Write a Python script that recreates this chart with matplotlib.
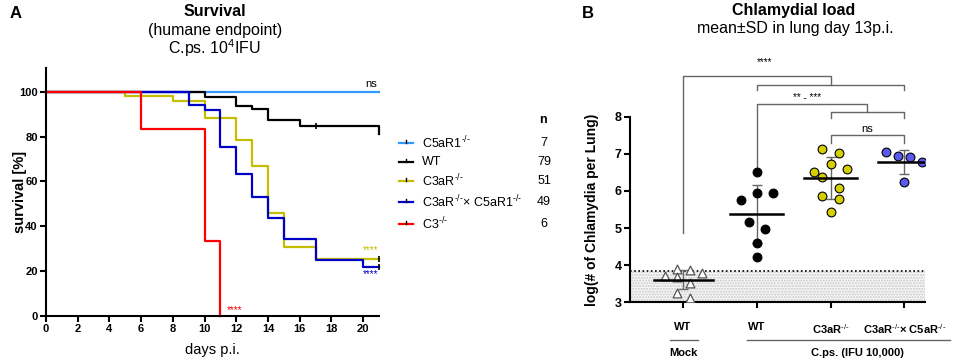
import numpy as np
import matplotlib
matplotlib.use("Agg")
import matplotlib.pyplot as plt
from matplotlib.lines import Line2D

plt.rcParams["font.family"] = ["Liberation Sans", "DejaVu Sans"]
plt.rcParams["mathtext.fontset"] = "custom"
plt.rcParams["mathtext.rm"] = "Liberation Sans"
plt.rcParams["mathtext.it"] = "Liberation Sans:italic"
plt.rcParams["mathtext.bf"] = "Liberation Sans:bold"

KO = r"$^{\text{-/-}}$"

# ---- panel A: survival (Kaplan-Meier steps) ----
surv_labels = ["C5aR1" + KO, "WT", "C3aR" + KO,
               "C3aR" + KO + "× C5aR1" + KO, "C3" + KO]
surv_n = [7, 79, 51, 49, 6]
surv_colors = ["#3399ff", "#000000", "#c4bd00", "#0000c8", "#ff0000"]

c5ar1_days = [0, 21]
c5ar1_surv = [100, 100]
wt_days = [0, 10, 12, 13, 14, 16, 21]
wt_surv = [100, 97.5, 93.7, 92.4, 87.3, 84.8, 81.0]
c3ar_days = [0, 5, 8, 10, 12, 13, 14, 15, 17, 21]
c3ar_surv = [100, 98.0, 96.1, 88.2, 78.4, 66.7, 46.1, 30.8, 25.6, 25.6]
dko_days = [0, 9, 10, 11, 12, 13, 14, 15, 17, 20, 21]
dko_surv = [100, 93.9, 91.8, 75.5, 63.3, 53.0, 43.7, 34.3, 25.0, 21.8, 21.8]
c3_days = [0, 6, 10, 11]
c3_surv = [100, 83.3, 33.3, 0]

surv_days = [c5ar1_days, wt_days, c3ar_days, dko_days, c3_days]
surv_vals = [c5ar1_surv, wt_surv, c3ar_surv, dko_surv, c3_surv]

# censored observations (small tick marks)
cens_days = [17, 21, 21]
cens_vals = [84.8, 25.6, 21.8]

# ---- panel B: chlamydial load ----
load_groups = ["WT", "WT", "C3aR" + KO, "C3aR" + KO + "× C5aR" + KO]
mock_off = [-0.24, -0.08, 0.09, -0.08, 0.26, 0.09, -0.08, 0.09]
mock_vals = [3.72, 3.89, 3.87, 3.69, 3.78, 3.53, 3.26, 3.12]
wt_off = [0, -0.22, 0, 0.22, -0.11, 0.11, 0, 0]
wt_vals = [6.52, 5.76, 5.95, 5.95, 5.17, 4.97, 4.60, 4.21]
c3ar_off = [-0.11, 0.11, 0, -0.22, 0.22, -0.11, 0.11, -0.11, 0.11, 0]
c3ar_vals = [7.12, 7.03, 6.73, 6.50, 6.59, 6.37, 6.09, 5.87, 5.78, 5.42]
dko_off = [-0.25, -0.09, 0.08, 0.24, 0]
dko_vals = [7.04, 6.94, 6.92, 6.78, 6.23]
load_mean = [3.61, 5.38, 6.35, 6.78]
load_sd = [0.26, 0.78, 0.56, 0.32]
detect_limit = 3.84

W, H = 957, 363
fig = plt.figure(figsize=(W / 100, H / 100), dpi=100)


def fx(px):
    return px / W


def fy(py):
    return 1 - py / H


# ================= panel A =================
axA = fig.add_axes([fx(46), fy(316), fx(379 - 46), (316 - 68.5) / H])
for d, s, c in zip(surv_days, surv_vals, surv_colors):
    axA.step(d, s, where="post", color=c, lw=1.6, clip_on=False)
axA.plot(cens_days, cens_vals, ls="none", marker="|", ms=4, mew=1.2,
         color="k", clip_on=False)
axA.set_xlim(0, 21)
axA.set_ylim(0, 110.4)
axA.set_xticks(range(0, 21, 2))
axA.set_yticks(range(0, 101, 20))
for sp in ["top", "right"]:
    axA.spines[sp].set_visible(False)
for sp in ["left", "bottom"]:
    axA.spines[sp].set_linewidth(1.5)
axA.tick_params(width=1.5, length=4, labelsize=8, pad=2)
for t in axA.get_xticklabels() + axA.get_yticklabels():
    t.set_fontweight("bold")
axA.set_xlabel("days p.i.", fontsize=10.5, labelpad=6)
axA.set_ylabel("survival [%]", fontsize=10.5, fontweight="bold")
axA.yaxis.set_label_coords(-0.058, 0.5)

axA.text(20.5, 103.5, "ns", fontsize=8, ha="center", va="center")
axA.text(20.5, 29.5, "****", fontsize=7, color="#c4bd00", ha="center", va="center")
axA.text(20.5, 18.5, "****", fontsize=7, color="#0000c8", ha="center", va="center")
axA.text(11.9, 2.5, "****", fontsize=7, color="#ff0000", ha="center", va="center")

fig.text(fx(10), fy(13), "A", fontsize=12, fontweight="bold", ha="left", va="center")
fig.text(fx(215), fy(12), "Survival", fontsize=11.5, fontweight="bold",
         ha="center", va="center")
fig.text(fx(215), fy(30), "(humane endpoint)", fontsize=11.5, ha="center", va="center")
fig.text(fx(215), fy(48), "C.ps. 10$^4$IFU", fontsize=11.5, ha="center", va="center")

# legend with n column
leg_y = [143, 162, 181, 202, 224]
fig.text(fx(543), fy(120), "n", fontsize=9, fontweight="bold", ha="center", va="center")
for lab, n, c, y in zip(surv_labels, surv_n, surv_colors, leg_y):
    fig.add_artist(Line2D([fx(399), fx(413)], [fy(y), fy(y)], color=c, lw=1.6))
    fig.add_artist(Line2D([fx(406), fx(406)], [fy(y), fy(y - 3)], color="k", lw=1))
    fig.text(fx(422), fy(y), lab, fontsize=9, ha="left", va="center")
    fig.text(fx(544), fy(y), str(n), fontsize=9, ha="center", va="center")

# ================= panel B =================
axB = fig.add_axes([fx(630), fy(302.3), fx(925 - 630), (302.3 - 116.7) / H])
axB.set_xlim(-0.72, 3.28)
axB.set_ylim(3, 8)

axB.fill_between([-0.72, 3.28], 3, detect_limit, facecolor="#f7f7f7",
                 edgecolor="#c8c8c8", hatch="......", lw=0)
axB.axhline(detect_limit, color="k", ls=(0, (1, 1.5)), lw=1.2)

gray = "#666666"
for i, (m, sd) in enumerate(zip(load_mean, load_sd)):
    axB.errorbar(i, m, yerr=sd, color=gray, lw=1, capsize=3.5, capthick=1, zorder=3)

axB.scatter(np.array(mock_off), mock_vals, marker="^", s=40, facecolor="white",
            edgecolor="#555555", lw=0.9, zorder=4)
axB.scatter(1 + np.array(wt_off), wt_vals, s=40, facecolor="black",
            edgecolor="black", lw=0.8, zorder=4)
axB.scatter(2 + np.array(c3ar_off), c3ar_vals, s=40, facecolor="#d6cf00",
            edgecolor="black", lw=0.8, zorder=4)
axB.scatter(3 + np.array(dko_off), dko_vals, s=40, facecolor="#5a5af0",
            edgecolor="black", lw=0.8, zorder=4)

mean_half = [0.4, 0.36, 0.36, 0.36]
for i, (m, hw) in enumerate(zip(load_mean, mean_half)):
    axB.plot([i - hw, i + hw], [m, m], color="k", lw=1.8, zorder=5)

# significance brackets
bk = dict(color=gray, lw=1, clip_on=False, zorder=2)
axB.plot([0, 0, 2, 2], [4.86, 9.10, 9.10, 8.86], **bk)
axB.plot([1, 1, 3, 3], [8.72, 8.86, 8.86, 8.72], **bk)
axB.plot([1, 1, 2.5, 2.5], [6.65, 8.34, 8.34, 8.12], **bk)
axB.plot([2, 2, 3, 3], [7.96, 8.12, 8.12, 7.96], **bk)
axB.plot([2, 2, 3, 3], [7.30, 7.51, 7.51, 7.30], **bk)
axB.text(1.1, 9.46, "****", fontsize=7, ha="center", va="center")
axB.text(1.68, 8.50, "** - ***", fontsize=7, ha="center", va="center")
axB.text(2.5, 7.66, "ns", fontsize=8, ha="center", va="center")

for sp in ["top", "right"]:
    axB.spines[sp].set_visible(False)
for sp in ["left", "bottom"]:
    axB.spines[sp].set_linewidth(1.5)
axB.set_yticks(range(3, 9))
axB.set_xticks(range(4))
axB.set_xticklabels(load_groups)
axB.tick_params(axis="y", width=1.5, length=4, labelsize=9, pad=2)
axB.tick_params(axis="x", width=1.5, length=4, labelsize=8, pad=10)
for t in axB.get_xticklabels() + axB.get_yticklabels():
    t.set_fontweight("bold")
axB.set_ylabel("log(# of Chlamydia per Lung)", fontsize=10, fontweight="bold")
axB.yaxis.set_label_coords(-0.105, 0.5)

tr = axB.get_xaxis_transform()
axB.plot([-0.18, 0.2], [-0.203, -0.203], color=gray, lw=1, transform=tr, clip_on=False)
axB.plot([0.865, 3.62], [-0.203, -0.203], color=gray, lw=1, transform=tr, clip_on=False)
axB.text(0, -0.275, "Mock", fontsize=8, fontweight="bold", ha="center", va="center",
         transform=tr)
axB.text(2.37, -0.275, "C.ps. (IFU 10,000)", fontsize=8, fontweight="bold",
         ha="center", va="center", transform=tr)

fig.text(fx(588), fy(13), "B", fontsize=12, fontweight="bold", ha="center", va="center")
fig.text(fx(794), fy(11), "Chlamydial load", fontsize=11.5, fontweight="bold",
         ha="center", va="center")
fig.text(fx(795), fy(28), "mean±SD in lung day 13p.i.", fontsize=11.5,
         ha="center", va="center")

fig.savefig("out.png", dpi=100)
